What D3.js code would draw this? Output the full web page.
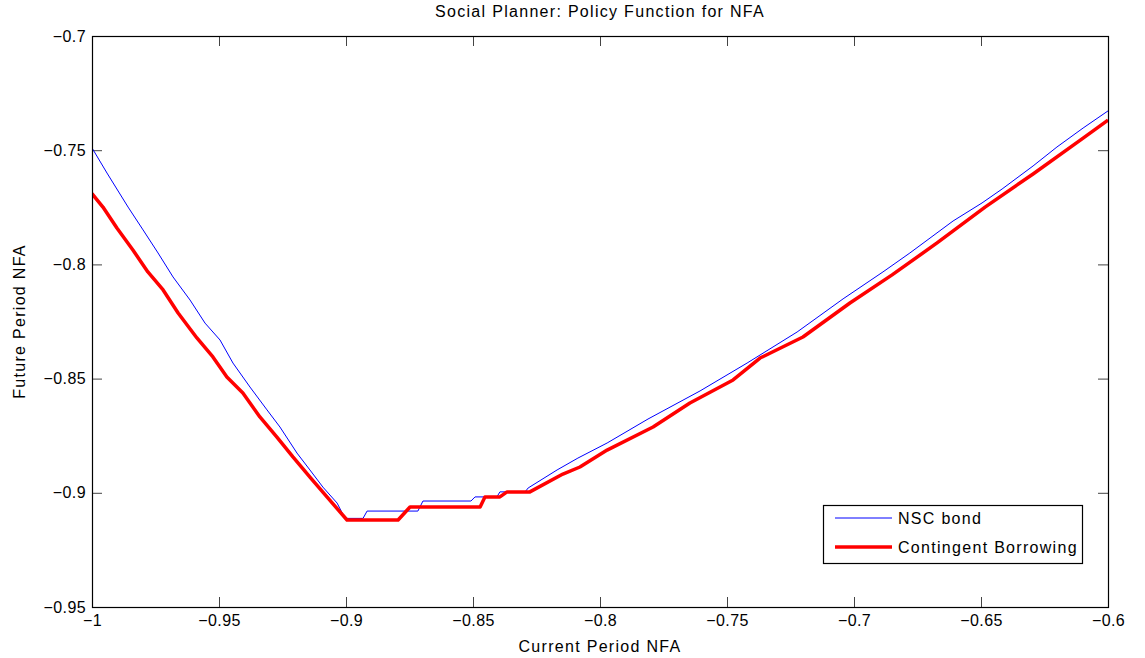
<!DOCTYPE html>
<html>
<head>
<meta charset="utf-8">
<script src="https://cdn.jsdelivr.net/npm/d3@7"></script>
<style>
  body { margin: 0; background: #fff; }
  svg { font-family: "Liberation Sans", Arial, sans-serif; }
  .tick text { font-size: 16px; fill: #000; letter-spacing: 0.4px; }
  .label { font-size: 16px; letter-spacing: 1.3px; }
</style>
</head>
<body>
<svg id="chart" width="1145" height="658"></svg>
<script>
"use strict";

// NSC bond policy function (current NFA -> future NFA)
const nscX = [-1, -0.9941, -0.9858, -0.9799, -0.974, -0.9681, -0.9614, -0.9555, -0.9496, -0.9445,
  -0.9378, -0.9311, -0.926, -0.9193, -0.9142, -0.9091, -0.9035, -0.9004, -0.8933, -0.8917,
  -0.8717, -0.8697, -0.8508, -0.8492, -0.8406, -0.8394, -0.8295, -0.8283, -0.8169, -0.8087,
  -0.7972, -0.7811, -0.7606, -0.7421, -0.7224, -0.7043, -0.6886, -0.678, -0.661, -0.6496,
  -0.6417, -0.6295, -0.6201, -0.6098, -0.6];
const nscY = [-0.749, -0.76, -0.7749, -0.7849, -0.795, -0.8055, -0.8156, -0.8257, -0.8331, -0.8432,
  -0.8537, -0.8637, -0.8712, -0.8826, -0.89, -0.8975, -0.9045, -0.9112, -0.9112, -0.908,
  -0.908, -0.9036, -0.9036, -0.9018, -0.9018, -0.8996, -0.8996, -0.8979, -0.89, -0.8848,
  -0.8782, -0.8677, -0.8554, -0.8432, -0.8296, -0.8151, -0.8033, -0.795, -0.781, -0.7731,
  -0.767, -0.7569, -0.7486, -0.7403, -0.7328];

// Contingent borrowing policy function
const cbX = [-1, -0.9957, -0.9902, -0.9839, -0.978, -0.972, -0.9661, -0.9587, -0.9524, -0.9469,
  -0.9406, -0.9339, -0.9272, -0.9209, -0.9142, -0.9075, -0.8996, -0.8795, -0.8748, -0.8472,
  -0.8453, -0.8394, -0.8366, -0.8276, -0.8146, -0.8079, -0.7972, -0.7791, -0.7646, -0.7476,
  -0.737, -0.7201, -0.7016, -0.685, -0.6673, -0.6484, -0.6295, -0.6098, -0.6];
const cbY = [-0.769, -0.7749, -0.7841, -0.7937, -0.8033, -0.8112, -0.8213, -0.8322, -0.8405, -0.8493,
  -0.8563, -0.8668, -0.8756, -0.8843, -0.8931, -0.9018, -0.9119, -0.9119, -0.9062, -0.9062,
  -0.9018, -0.9018, -0.8996, -0.8996, -0.8918, -0.8887, -0.8813, -0.8712, -0.8607, -0.8506,
  -0.841, -0.8318, -0.8169, -0.8046, -0.7906, -0.7749, -0.7604, -0.7447, -0.7368];

const xTicks = [-1, -0.95, -0.9, -0.85, -0.8, -0.75, -0.7, -0.65, -0.6];
const yTicks = [-0.95, -0.9, -0.85, -0.8, -0.75, -0.7];

const seriesNames = ["NSC bond", "Contingent Borrowing"];
const seriesColors = ["#0000ff", "#ff0000"];
const seriesWidths = [1, 3.5];

const plotL = 92, plotR = 1108, plotT = 36, plotB = 607;
const tickLen = 10;

const svg = d3.select("#chart");

const x = d3.scaleLinear().domain([-1, -0.6]).range([plotL, plotR]);
const y = d3.scaleLinear().domain([-0.95, -0.7]).range([plotB, plotT]);

// matlab style minus
const fmt = d => (d < 0 ? "\u2212" : "") + d3.format("")(Math.abs(+d.toFixed(2)));

// axes with labels (bottom, left) and bare ticks (top, right)
svg.append("g")
  .attr("transform", `translate(0, ${plotB})`)
  .call(d3.axisBottom(x).tickValues(xTicks).tickFormat(fmt).tickSizeInner(-tickLen).tickSizeOuter(0).tickPadding(8))
  .call(g => g.select(".domain").remove())
  .call(g => g.selectAll(".tick line").attr("stroke", "#444"));

svg.append("g")
  .attr("transform", `translate(${plotL}, 0)`)
  .call(d3.axisLeft(y).tickValues(yTicks).tickFormat(fmt).tickSizeInner(-tickLen).tickSizeOuter(0).tickPadding(6))
  .call(g => g.select(".domain").remove())
  .call(g => g.selectAll(".tick line").attr("stroke", "#444"));

svg.append("g")
  .attr("transform", `translate(0, ${plotT})`)
  .call(d3.axisTop(x).tickValues(xTicks).tickFormat("").tickSizeInner(-tickLen).tickSizeOuter(0))
  .call(g => g.select(".domain").remove())
  .call(g => g.selectAll(".tick line").attr("stroke", "#444"));

svg.append("g")
  .attr("transform", `translate(${plotR}, 0)`)
  .call(d3.axisRight(y).tickValues(yTicks).tickFormat("").tickSizeInner(-tickLen).tickSizeOuter(0))
  .call(g => g.select(".domain").remove())
  .call(g => g.selectAll(".tick line").attr("stroke", "#444"));

// lines
svg.append("clipPath").attr("id", "plotclip")
  .append("rect")
  .attr("x", plotL).attr("y", plotT)
  .attr("width", plotR - plotL).attr("height", plotB - plotT);

const line = d3.line()
  .x(d => x(d[0]))
  .y(d => y(d[1]));

const series = [
  d3.zip(nscX, nscY),
  d3.zip(cbX, cbY)
];

svg.append("g")
  .attr("clip-path", "url(#plotclip)")
  .selectAll("path")
  .data(series)
  .join("path")
  .attr("fill", "none")
  .attr("stroke", (d, i) => seriesColors[i])
  .attr("stroke-width", (d, i) => seriesWidths[i])
  .attr("stroke-linejoin", "round")
  .attr("d", line);

// box
svg.append("rect")
  .attr("x", plotL + 0.5).attr("y", plotT + 0.5)
  .attr("width", plotR - plotL).attr("height", plotB - plotT)
  .attr("fill", "none")
  .attr("stroke", "#000")
  .attr("stroke-width", 1.2);

// titles
svg.append("text")
  .attr("class", "label")
  .attr("x", (plotL + plotR) / 2).attr("y", 17)
  .attr("text-anchor", "middle")
  .text("Social Planner: Policy Function for NFA");

svg.append("text")
  .attr("class", "label")
  .attr("x", (plotL + plotR) / 2).attr("y", 652)
  .attr("text-anchor", "middle")
  .text("Current Period NFA");

svg.append("text")
  .attr("class", "label")
  .attr("transform", `translate(25, ${(plotT + plotB) / 2}) rotate(-90)`)
  .attr("text-anchor", "middle")
  .text("Future Period NFA");

// legend
const legend = svg.append("g").attr("transform", "translate(823, 505)");
legend.append("rect")
  .attr("x", 0.5).attr("y", 0.5)
  .attr("width", 259).attr("height", 58)
  .attr("fill", "#fff")
  .attr("stroke", "#000")
  .attr("stroke-width", 1.2);

const items = legend.selectAll(".item")
  .data(seriesNames)
  .join("g")
  .attr("class", "item")
  .attr("transform", (d, i) => `translate(0, ${13 + i * 29})`);

items.append("line")
  .attr("x1", 12).attr("x2", 69)
  .attr("stroke", (d, i) => seriesColors[i])
  .attr("stroke-width", (d, i) => seriesWidths[i]);

items.append("text")
  .attr("class", "label")
  .attr("x", 75).attr("y", 6)
  .text(d => d);
</script>
</body>
</html>
